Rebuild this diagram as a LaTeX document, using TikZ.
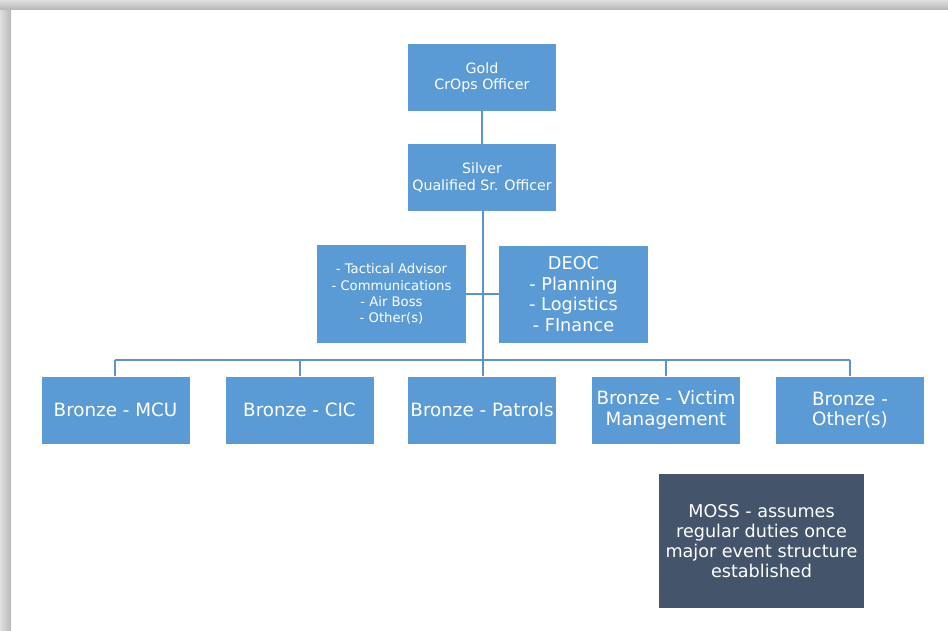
\documentclass[tikz,border=0pt]{standalone}
\usepackage{fontspec}
\setmainfont{DejaVu Sans}
\definecolor{boxblue}{HTML}{5B9BD5}
\definecolor{linkblue}{HTML}{5A93CF}
\definecolor{slate}{HTML}{44546A}
\begin{document}
\begin{tikzpicture}[x=1pt,y=-1pt,
  box/.style={fill=boxblue, text=white, align=center, inner sep=0pt,
    minimum width=148pt, minimum height=67pt,
    font=\fontsize{18.3}{20.5}\selectfont},
  toptext/.style={font=\fontsize{14.2}{16.5}\selectfont},
  smalltext/.style={font=\fontsize{13.2}{16.2}\selectfont},
  link/.style={draw=linkblue, line width=2pt}]

% page with soft frame edge
\useasboundingbox (0,0) rectangle (948,630);
\fill[white] (0,0) rectangle (948,630);
\shade[left color=gray!25, right color=gray!55] (0,0) rectangle (11,630);
\shade[top color=gray!25, bottom color=gray!55] (0,0) rectangle (948,9);

% command chain
\node[box, toptext] (gold) at (482,77.5) {Gold\\CrOps Officer};
\node[box, toptext] (silver) at (482,177.5) {Silver\\Qualified Sr. Officer};

% support cells
\node[box, smalltext, minimum width=149pt, minimum height=98pt] (tact) at (391.5,294)
  {- Tactical Advisor\\- Communications\\- Air Boss\\- Other(s)};
\node[box, font=\fontsize{17.7}{20.5}\selectfont, minimum width=149pt, minimum height=97pt] (deoc) at (573.5,294)
  {DEOC\\- Planning\\- Logistics\\- FInance};

% bronze level
\node[box] (mcu) at (115.5,410) {Bronze - MCU};
\node[box] (cic) at (299.5,410) {Bronze - CIC};
\node[box] (pat) at (482,410) {Bronze - Patrols};
\node[box] (vic) at (666,410) {Bronze - Victim\\Management};
\node[box] (oth) at (850,410) {Bronze -\\Other(s)};

\node[box, fill=slate, minimum width=205pt, minimum height=134pt,
  font=\fontsize{17.6}{20}\selectfont] (moss) at (761.5,541)
  {MOSS - assumes\\regular duties once\\major event structure\\established};

% connectors
\coordinate (bus) at (483,360);
\coordinate (busL) at (115,360);
\coordinate (busR) at (850,360);
\draw[link] (gold) -- (silver);
\draw[link] (silver.south -| bus) -- (bus);
\draw[link] (tact.east) -- (deoc.west);
\draw[link] (busL) -- (busR);
\draw[link] (busL) -- (mcu.north -| busL);
\draw[link] (cic.north |- bus) -- (cic.north);
\draw[link] (bus) -- (pat.north -| bus);
\draw[link] (vic.north |- bus) -- (vic.north);
\draw[link] (busR) -- (oth.north -| busR);
\end{tikzpicture}
\end{document}
